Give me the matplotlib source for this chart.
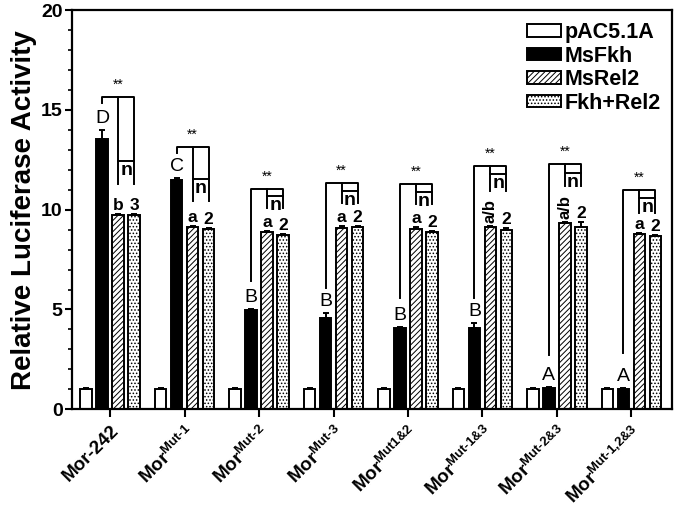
import matplotlib.pyplot as plt
import numpy as np

plt.rcParams['font.family'] = ['Liberation Sans', 'DejaVu Sans']
plt.rcParams['mathtext.fontset'] = 'custom'
plt.rcParams['mathtext.rm'] = 'Liberation Sans:bold'
plt.rcParams['mathtext.bf'] = 'Liberation Sans:bold'
plt.rcParams['hatch.linewidth'] = 0.7

# data
labels = ['Mor-242', r'Mor$^{\text{Mut-1}}$', r'Mor$^{\text{Mut-2}}$',
          r'Mor$^{\text{Mut-3}}$', r'Mor$^{\text{Mut1&2}}$',
          r'Mor$^{\text{Mut-1&3}}$', r'Mor$^{\text{Mut-2&3}}$',
          r'Mor$^{\text{Mut-1,2&3}}$']
series = ['pAC5.1A', 'MsFkh', 'MsRel2', 'Fkh+Rel2']
pac = [1.0, 1.0, 1.0, 1.0, 1.0, 1.0, 1.0, 1.0]
fkh = [13.55, 11.5, 4.95, 4.55, 4.05, 4.05, 1.05, 1.0]
rel2 = [9.75, 9.15, 8.9, 9.1, 9.05, 9.15, 9.35, 8.8]
combo = [9.75, 9.05, 8.75, 9.15, 8.9, 9.0, 9.15, 8.7]
pac_err = [0.05, 0.05, 0.05, 0.05, 0.05, 0.05, 0.05, 0.05]
fkh_err = [0.45, 0.1, 0.05, 0.25, 0.05, 0.25, 0.05, 0.05]
rel2_err = [0.05, 0.05, 0.05, 0.1, 0.1, 0.05, 0.05, 0.05]
combo_err = [0.05, 0.05, 0.05, 0.05, 0.05, 0.1, 0.25, 0.05]

fkh_letters = ['D', 'C', 'B', 'B', 'B', 'B', 'A', 'A']
rel2_letters = ['b', 'a', 'a', 'a', 'a', 'a/b', 'a/b', 'a']
combo_letters = ['3', '2', '2', '2', '2', '2', '2', '2']

br_top = [15.65, 13.15, 11.05, 11.35, 11.3, 12.2, 12.3, 11.0]
br_mid = [12.45, 11.55, 10.7, 10.95, 10.9, 11.8, 11.85, 10.6]
br_bot = [11.3, 10.45, 10.1, 10.35, 10.3, 10.95, 11.2, 9.85]
br_left = [15.35, 12.85, 6.45, 6.1, 5.6, 5.6, 2.7, 2.8]

fig = plt.figure(figsize=(6.75, 5.09), dpi=100)
ax = fig.add_axes([0.107, 0.196, 0.889, 0.784])

x = np.arange(len(labels))
w = 0.155
offs = [-0.323, -0.108, 0.108, 0.323]
vals = [pac, fkh, rel2, combo]
errs = [pac_err, fkh_err, rel2_err, combo_err]
faces = ['white', 'black', 'white', 'white']
hatches = [None, None, '//////', '.....']

for k in range(4):
    ax.bar(x + offs[k], vals[k], w, color=faces[k], edgecolor='black',
           linewidth=1.4, hatch=hatches[k], label=series[k], zorder=2)
    ax.errorbar(x + offs[k], vals[k], yerr=[np.zeros(len(x)), errs[k]],
                fmt='none', ecolor='black', elinewidth=1.4, capsize=2.5,
                capthick=1.4, zorder=3)

for i in range(len(x)):
    xb, xh, xd = x[i] + offs[1], x[i] + offs[2], x[i] + offs[3]
    ax.plot([xb, xb, xd, xd], [br_left[i], br_top[i], br_top[i], br_bot[i]],
            color='black', lw=1.4, zorder=3)
    ax.plot([xh, xh], [br_top[i], br_bot[i]], color='black', lw=1.4, zorder=3)
    ax.plot([xh, xd], [br_mid[i], br_mid[i]], color='black', lw=1.4, zorder=3)
    ax.text((xh + xd) / 2, br_mid[i] - 0.72, 'n', ha='center', va='baseline',
            fontsize=14, fontweight='bold')
    ax.text((xb + xd) / 2, br_top[i] + 0.25, '**', ha='center', va='bottom',
            fontsize=10)
    ax.text(xb, fkh[i] + fkh_err[i] + 0.15, fkh_letters[i], ha='center',
            va='bottom', fontsize=14)
    if '/' in rel2_letters[i]:
        ax.text(xh, rel2[i] + rel2_err[i] + 0.15, rel2_letters[i], ha='center',
                va='bottom', fontsize=12, fontweight='bold', rotation=90)
    else:
        ax.text(xh, rel2[i] + rel2_err[i] + 0.05, rel2_letters[i], ha='center',
                va='bottom', fontsize=12.5, fontweight='bold')
    ax.text(xd, combo[i] + combo_err[i] + 0.05, combo_letters[i], ha='center',
            va='bottom', fontsize=12.5, fontweight='bold')

ax.set_xlim(-0.51, 7.55)
ax.set_ylim(0, 20)
ax.set_yticks([0, 5, 10, 15, 20])
ax.set_yticks(np.arange(0, 21, 1), minor=True)
ax.set_xticks(x)
ax.set_xticklabels(labels, rotation=45, ha='right', rotation_mode='anchor',
                   fontsize=13.5, fontweight='bold')
for lab in ax.get_yticklabels():
    lab.set_fontweight('bold')
ax.tick_params(axis='y', labelsize=14, width=1.5, length=5, pad=2)
ax.tick_params(axis='y', which='minor', width=1.2, length=3)
ax.tick_params(axis='x', width=1.5, length=6)
for s in ax.spines.values():
    s.set_linewidth(1.6)
ax.set_ylabel('Relative Luciferase Activity', fontsize=20, fontweight='bold',
              labelpad=3)

ax.legend(loc='upper right', frameon=False, handlelength=1.6,
          handleheight=0.5, handletextpad=0.15, labelspacing=0.12,
          prop={'weight': 'bold', 'size': 15.5}, borderaxespad=0.15,
          borderpad=0.4)

fig.savefig('out.png', dpi=100)
